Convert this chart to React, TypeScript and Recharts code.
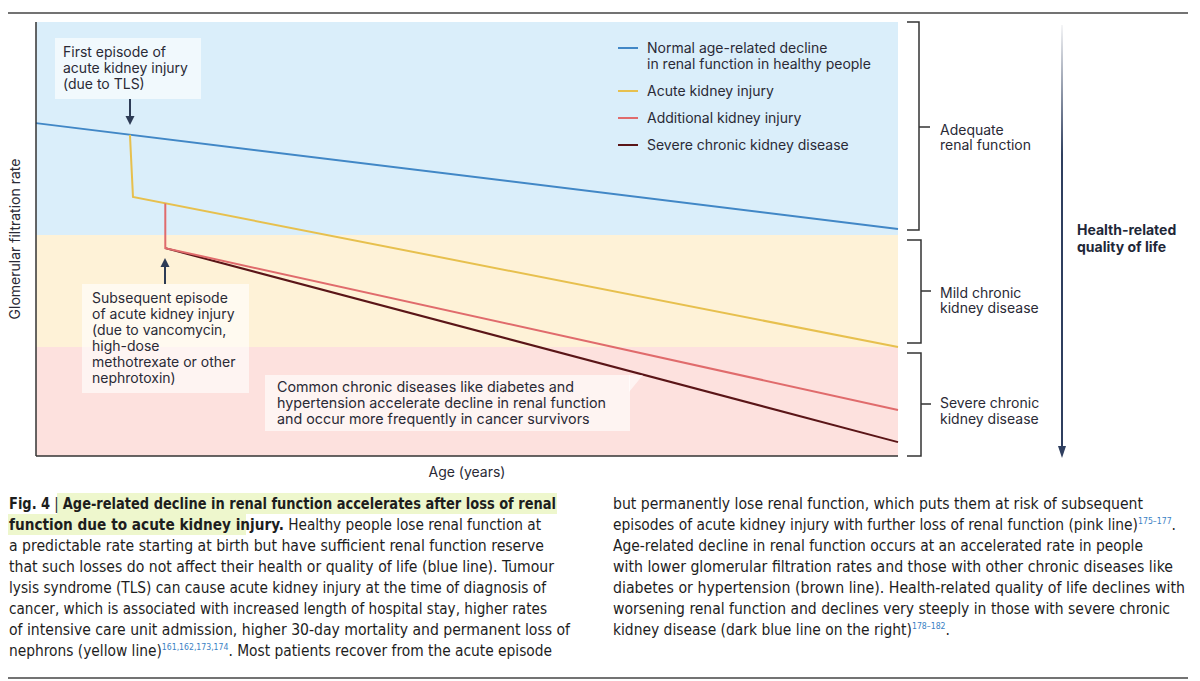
import { LineChart, Line, XAxis, YAxis, ReferenceArea, Legend, Label } from 'recharts'

// GFR curves, x = age on a 0–100 scale, y = glomerular filtration rate (0–100)
const normalX = [0, 100]
const normalY = [76.7, 52.3]
const acuteX = [10.9, 11.25, 100]
const acuteY = [74.0, 59.7, 25.1]
const additionalX = [15, 15, 100]
const additionalY = [58.2, 47.9, 10.6]
const severeX = [15, 100]
const severeY = [47.9, 3.2]

// background bands (GFR ranges)
const bandNames = ['Severe chronic kidney disease', 'Mild chronic kidney disease', 'Adequate renal function']
const bandLimits = [0, 25.1, 50.9, 100]
const bandColors = ['#fde1de', '#fef2d7', '#daeefa']

const seriesNames = [
  'Normal age-related decline\nin renal function in healthy people',
  'Acute kidney injury',
  'Additional kidney injury',
  'Severe chronic kidney disease',
]
const seriesColors = ['#4187c6', '#e7c04e', '#e06b6c', '#5a1517']

const toPoints = (xs: number[], ys: number[]) => xs.map((x, i) => ({ x, y: ys[i] }))

const FONT = 'Inter, "Open Sans", sans-serif'
const CAPTION_FONT = '"DejaVu Sans Condensed", "Liberation Sans", sans-serif'
const INK = '#2a2a36'

// caption text: b = bold, s = superscript reference
type Part = { t: string; b?: boolean; s?: boolean }
const leftCaption: Part[][] = [
  [{ t: 'Fig. 4', b: true }, { t: ' | ' }, { t: 'Age-related decline in renal function accelerates after loss of renal', b: true }],
  [{ t: 'function due to acute kidney injury.', b: true }, { t: ' Healthy people lose renal function at' }],
  [{ t: 'a predictable rate starting at birth but have sufficient renal function reserve' }],
  [{ t: 'that such losses do not affect their health or quality of life (blue line). Tumour' }],
  [{ t: 'lysis syndrome (TLS) can cause acute kidney injury at the time of diagnosis of' }],
  [{ t: 'cancer, which is associated with increased length of hospital stay, higher rates' }],
  [{ t: 'of intensive care unit admission, higher 30-day mortality and permanent loss of' }],
  [{ t: 'nephrons (yellow line)' }, { t: '161,162,173,174', s: true }, { t: '. Most patients recover from the acute episode' }],
]
const rightCaption: Part[][] = [
  [{ t: 'but permanently lose renal function, which puts them at risk of subsequent' }],
  [{ t: 'episodes of acute kidney injury with further loss of renal function (pink line)' }, { t: '175–177', s: true }, { t: '.' }],
  [{ t: 'Age-related decline in renal function occurs at an accelerated rate in people' }],
  [{ t: 'with lower glomerular filtration rates and those with other chronic diseases like' }],
  [{ t: 'diabetes or hypertension (brown line). Health-related quality of life declines with' }],
  [{ t: 'worsening renal function and declines very steeply in those with severe chronic' }],
  [{ t: 'kidney disease (dark blue line on the right)' }, { t: '178–182', s: true }, { t: '.' }],
]
// right edge of each caption line in the figure
const leftEnds = [556, 541, 544, 554, 546, 547, 570, 552]
const rightEnds = [1143, 1176, 1143, 1173, 1185, 1170, 950]

const boxStyle: React.CSSProperties = {
  position: 'absolute',
  background: 'rgba(255,255,255,0.62)',
  fontFamily: FONT,
  fontSize: 14,
  lineHeight: '16px',
  color: INK,
  boxSizing: 'border-box',
  whiteSpace: 'nowrap',
}

function renderLegend() {
  return (
    <div style={{ fontFamily: FONT, fontSize: 14, lineHeight: '16px', color: INK }}>
      {seriesNames.map((name, i) => {
        const lines = name.split('\n')
        return (
          <div key={i} style={{ display: 'flex', alignItems: 'flex-start', marginBottom: 11 }}>
            <div style={{ width: 20, height: 2, background: seriesColors[i], marginTop: 7, marginRight: 9 }} />
            <div>
              {lines.map((l, j) => (
                <div key={j}>{l}</div>
              ))}
            </div>
          </div>
        )
      })}
    </div>
  )
}

function CaptionColumn({ lines, ends, x }: { lines: Part[][]; ends: number[]; x: number }) {
  return (
    <g fontFamily={CAPTION_FONT} fontSize={16} fill="#1d1d1d">
      {lines.map((parts, i) => {
        let shifted = false
        return (
          <text key={i} x={x} y={509 + i * 21} textLength={ends[i] - x} lengthAdjust="spacingAndGlyphs">
            {parts.map((p, j) => {
              let dy = 0
              if (p.s && !shifted) {
                dy = -6
                shifted = true
              } else if (!p.s && shifted) {
                dy = 6
                shifted = false
              }
              return (
                <tspan
                  key={j}
                  dy={dy || undefined}
                  fontWeight={p.b ? 700 : 400}
                  fontSize={p.s ? 9 : 16}
                  fill={p.s ? '#3b7fc4' : undefined}
                >
                  {p.t}
                </tspan>
              )
            })}
          </text>
        )
      })}
    </g>
  )
}

export default function App() {
  return (
    <div style={{ position: 'absolute', left: 0, top: 0, width: 1200, height: 681, background: '#fff', overflow: 'hidden' }}>
      <div style={{ position: 'absolute', left: 0, top: 0 }}>
        <LineChart width={1200} height={490} margin={{ top: 22, right: 302, bottom: 4, left: 0 }}>
          {bandNames.map((n, i) => (
            <ReferenceArea
              key={n}
              y1={bandLimits[i]}
              y2={bandLimits[i + 1]}
              fill={bandColors[i]}
              fillOpacity={1}
              stroke="none"
              ifOverflow="hidden"
            />
          ))}
          <XAxis
            type="number"
            dataKey="x"
            domain={[0, 100]}
            tick={false}
            tickLine={false}
            height={30}
            axisLine={{ stroke: '#333', strokeWidth: 1.5 }}
          >
            <Label value="Age (years)" position="insideBottom" offset={9} fill={INK} fontSize={14} fontFamily={FONT} />
          </XAxis>
          <YAxis
            type="number"
            domain={[0, 100]}
            tick={false}
            tickLine={false}
            width={36}
            axisLine={{ stroke: '#333', strokeWidth: 1.5 }}
          >
            <Label
              value="Glomerular filtration rate"
              angle={-90}
              position="center"
              dx={-3}
              fill={INK}
              fontSize={14}
              fontFamily={FONT}
            />
          </YAxis>
          <Line data={toPoints(normalX, normalY)} dataKey="y" name={seriesNames[0]} stroke={seriesColors[0]} strokeWidth={2} dot={false} isAnimationActive={false} type="linear" />
          <Line data={toPoints(acuteX, acuteY)} dataKey="y" name={seriesNames[1]} stroke={seriesColors[1]} strokeWidth={2} dot={false} isAnimationActive={false} type="linear" />
          <Line data={toPoints(severeX, severeY)} dataKey="y" name={seriesNames[3]} stroke={seriesColors[3]} strokeWidth={2} dot={false} isAnimationActive={false} type="linear" />
          <Line data={toPoints(additionalX, additionalY)} dataKey="y" name={seriesNames[2]} stroke={seriesColors[2]} strokeWidth={2} dot={false} isAnimationActive={false} type="linear" />
          <Legend
            layout="vertical"
            align="center"
            verticalAlign="middle"
            content={renderLegend}
            wrapperStyle={{ top: 40, left: 618, width: 280 }}
          />
        </LineChart>
      </div>

      {/* annotation boxes */}
      <div style={{ ...boxStyle, left: 55, top: 38, width: 146, height: 61, padding: '6px 0 0 8px' }}>
        First episode of
        <br />
        acute kidney injury
        <br />
        (due to TLS)
      </div>
      <div style={{ ...boxStyle, left: 82, top: 284, width: 167, height: 109, padding: '6px 0 0 10px' }}>
        Subsequent episode
        <br />
        of acute kidney injury
        <br />
        (due to vancomycin,
        <br />
        high-dose
        <br />
        methotrexate or other
        <br />
        nephrotoxin)
      </div>
      <div style={{ ...boxStyle, left: 265, top: 375, width: 365, height: 56, padding: '4px 0 0 12px', fontSize: 14.3 }}>
        Common chronic diseases like diabetes and
        <br />
        hypertension accelerate decline in renal function
        <br />
        and occur more frequently in cancer survivors
      </div>

      {/* decorations: rules, arrows, brackets, caption */}
      <svg width={1200} height={681} style={{ position: 'absolute', left: 0, top: 0, pointerEvents: 'none' }}>
        <defs>
          <linearGradient id="qol" gradientUnits="userSpaceOnUse" x1={0} y1={25} x2={0} y2={458}>
            <stop offset="0" stopColor="#2f3f5f" stopOpacity={0.05} />
            <stop offset="0.3" stopColor="#2f3f5f" stopOpacity={1} />
            <stop offset="1" stopColor="#2f3f5f" stopOpacity={1} />
          </linearGradient>
        </defs>
        <line x1={8} x2={1188} y1={13} y2={13} stroke="#444" strokeWidth={1.5} />
        <line x1={8} x2={1188} y1={678} y2={678} stroke="#444" strokeWidth={1.5} />
        <polygon points="629,375 643,375 629,392" fill="rgba(255,255,255,0.62)" />

        <line x1={130} x2={130} y1={99} y2={118} stroke="#2d3b55" strokeWidth={2} />
        <polygon points="125.5,116 134.5,116 130,125" fill="#2d3b55" />
        <line x1={165} x2={165} y1={284} y2={265} stroke="#2d3b55" strokeWidth={2} />
        <polygon points="160.5,267 169.5,267 165,258" fill="#2d3b55" />

        <g stroke="#333" strokeWidth={1.5} fill="none">
          <path d="M907,22 H919 V230 H907 M919,127 H930" />
          <path d="M907,240 H921 V343 H907 M921,291 H931" />
          <path d="M907,353 H921 V456 H907 M921,404 H931" />
        </g>
        <g fontFamily={FONT} fontSize={14} fill={INK}>
          <text x={940} y={135}>Adequate</text>
          <text x={940} y={150}>renal function</text>
          <text x={940} y={298}>Mild chronic</text>
          <text x={940} y={313}>kidney disease</text>
          <text x={940} y={408}>Severe chronic</text>
          <text x={940} y={424}>kidney disease</text>
          <text x={1077} y={235} fontWeight={700} fill="#1e2738">Health-related</text>
          <text x={1077} y={252} fontWeight={700} fill="#1e2738">quality of life</text>
        </g>
        <line x1={1062} x2={1062} y1={25} y2={448} stroke="url(#qol)" strokeWidth={2} />
        <polygon points="1058,446 1066,446 1062,458" fill="#2f3f5f" />

        <rect x={57} y={493} width={500} height={21} fill="#eef7cd" />
        <rect x={8} y={514} width={238} height={21} fill="#eef7cd" />
        <CaptionColumn lines={leftCaption} ends={leftEnds} x={9} />
        <CaptionColumn lines={rightCaption} ends={rightEnds} x={613} />
      </svg>
    </div>
  )
}
